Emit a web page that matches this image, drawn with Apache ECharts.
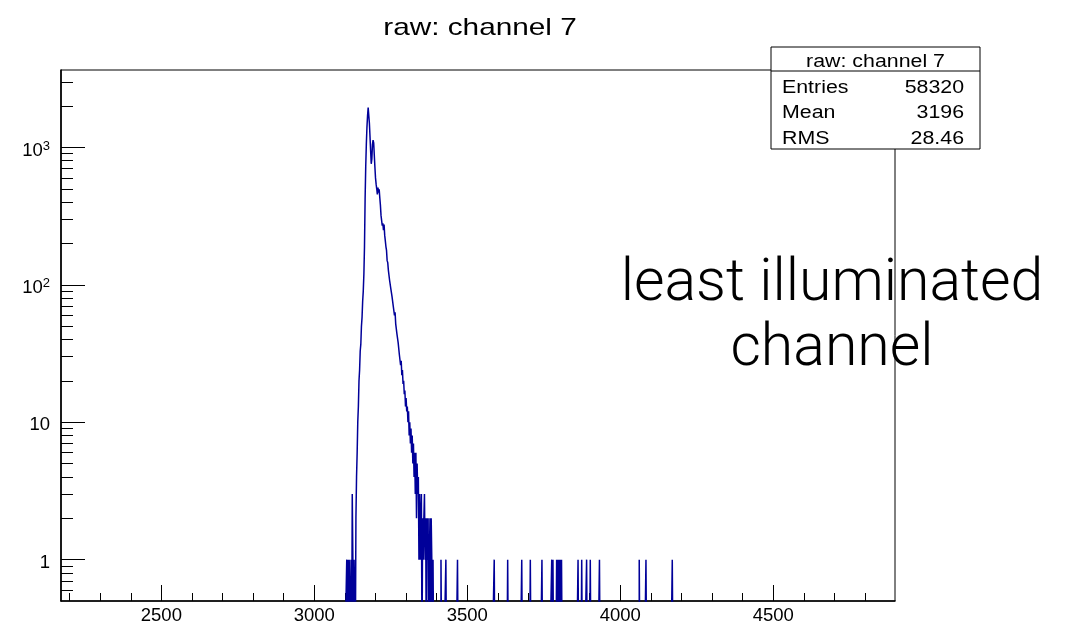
<!DOCTYPE html>
<html>
<head>
<meta charset="utf-8">
<script src="https://cdn.jsdelivr.net/npm/echarts@6/dist/echarts.min.js"></script>
<style>
  html, body { margin: 0; padding: 0; background: #ffffff; }
  #chart { width: 1074px; height: 627px; }
</style>
</head>
<body>
<div id="chart"></div>
<script>
// Axis ranges of the raw ADC spectrum
const X_MIN = 2172, X_MAX = 4898;
const Y_MIN = 0.5, Y_MAX = 3660;

// Histogram binning: counts per 2-ADC bin, starting at CORE_START
const BIN_WIDTH = 2;
const CORE_START = 3104;
const coreCounts = [
  0, 1, 0, 1, 0, 1, 1, 0, 1, 0,            // 3104 - 3122
  3, 1, 0, 1, 1, 0, 2, 4, 6, 10,           // 3124 - 3142
  13, 20, 24, 33, 37, 50, 58, 76, 90, 120, // 3144 - 3162
  190, 420, 720, 1050, 1400, 1700, 1950, 1960, 1500, 1200, // 3164 - 3182
  950, 760, 820, 1050, 1130, 1080, 880, 720, 600, 540,     // 3184 - 3202
  500, 455, 510, 470, 495, 430, 380, 320, 310, 270,        // 3204 - 3222
  280, 250, 275, 230, 210, 190, 178, 150, 145, 128,        // 3224 - 3242
  130, 108, 110, 94, 96, 82, 80, 70, 72, 60,               // 3244 - 3262
  63, 52, 52, 44, 45, 38, 37, 31, 32, 26,                  // 3264 - 3282
  28, 22, 24, 19, 20, 16, 17, 13, 15, 12,                  // 3284 - 3302
  13, 10, 12, 8, 10, 7, 9, 6, 8, 5,                        // 3304 - 3322
  7, 4, 6, 3, 6, 2, 5, 3, 4, 1,                            // 3324 - 3342
  3, 1, 2, 3, 0, 2, 1, 2, 3, 1,                            // 3344 - 3362
  2, 0, 2, 1, 2, 0, 1, 2, 0, 2,                            // 3364 - 3382
  1, 0, 1, 0                                               // 3384 - 3390
];

// Isolated high-side entries
const strayBins   = [3414, 3430, 3468, 3588, 3632, 3678, 3706, 3744, 3776, 3780,
                     3792, 3796, 3800, 3804, 3808, 3862, 3874, 3890, 3902, 3932,
                     4062, 4084, 4170];
const strayCounts = [1, 1, 1, 1, 1, 1, 1, 1, 1, 1,
                     1, 1, 1, 1, 1, 1, 1, 1, 1, 1,
                     1, 1, 1];

// Tick positions
const xMajorTicks = [2500, 3000, 3500, 4000, 4500];
const xMinorTicks = [2200, 2300, 2400, 2600, 2700, 2800, 2900, 3100, 3200, 3300, 3400,
                     3600, 3700, 3800, 3900, 4100, 4200, 4300, 4400, 4600, 4700, 4800];
const yMajorTicks = [1, 10, 100, 1000];
const yMinorTicks = [0.6, 0.7, 0.8, 0.9,
                     2, 3, 4, 5, 6, 7, 8, 9,
                     20, 30, 40, 50, 60, 70, 80, 90,
                     200, 300, 400, 500, 600, 700, 800, 900,
                     2000, 3000];

// Statistics box
const histTitle   = 'raw: channel 7';
const statsNames  = ['Entries', 'Mean', 'RMS'];
const statsValues = ['58320', '3196', '28.46'];
const noteLines   = ['least illuminated', 'channel'];

// Build the full bin array and the step outline
const nBins = Math.round((X_MAX - X_MIN) / BIN_WIDTH);
const counts = new Array(nBins).fill(0);
const coreOffset = Math.round((CORE_START - X_MIN) / BIN_WIDTH);
coreCounts.forEach((c, i) => { counts[coreOffset + i] += c; });
strayBins.forEach((x, i) => { counts[Math.floor((x - X_MIN) / BIN_WIDTH)] += strayCounts[i]; });

// Empty bins drop below the log floor so the outline returns to the frame edge
const EMPTY_LEVEL = 0.2;
const outline = counts.map((c, i) => [X_MIN + i * BIN_WIDTH, c > 0 ? c : EMPTY_LEVEL]);
outline.push([X_MAX, EMPTY_LEVEL]);

const FONT = '"Liberation Sans", Arial, Helvetica, sans-serif';
const INK = '#000000';
const HIST_COLOR = '#000099';

function expLabel(v) {
  const e = Math.round(Math.log10(v));
  return e < 2 ? String(Math.round(v)) : '{b|10}{s|' + e + '}';
}

const chart = echarts.init(document.getElementById('chart'), null, { renderer: 'canvas' });

const statsLeft = 771, statsTop = 47, statsW = 209, statsH = 102;
const rowY = [88, 113.5, 139];
const STRETCH = 1.22;

const statsChildren = [
  { type: 'rect', shape: { x: statsLeft, y: statsTop, width: statsW, height: statsH },
    style: { fill: '#ffffff', stroke: INK, lineWidth: 1 } },
  { type: 'line', shape: { x1: statsLeft, y1: 71, x2: statsLeft + statsW, y2: 71 },
    style: { stroke: INK, lineWidth: 1 } },
  { type: 'text', x: statsLeft + statsW / 2, y: 62, scaleX: STRETCH,
    style: { text: histTitle, fill: INK, fontSize: 17.5, fontFamily: FONT,
             textAlign: 'center', textVerticalAlign: 'middle', verticalAlign: 'middle' } }
];
statsNames.forEach((name, i) => {
  statsChildren.push({ type: 'text', x: 782, y: rowY[i], scaleX: STRETCH,
    style: { text: name, fill: INK, fontSize: 17.5, fontFamily: FONT,
             textAlign: 'left', textVerticalAlign: 'middle', verticalAlign: 'middle' } });
  statsChildren.push({ type: 'text', x: 964, y: rowY[i], scaleX: STRETCH,
    style: { text: statsValues[i], fill: INK, fontSize: 17.5, fontFamily: FONT,
             textAlign: 'right', textVerticalAlign: 'middle', verticalAlign: 'middle' } });
});

chart.setOption({
  animation: false,
  backgroundColor: '#ffffff',
  grid: {
    left: 61, right: 179, top: 70, bottom: 26,
    show: true, borderColor: INK, borderWidth: 1, backgroundColor: 'transparent',
    containLabel: false, outerBoundsMode: 'none'
  },
  xAxis: [
    {
      type: 'value', min: X_MIN, max: X_MAX, position: 'bottom',
      axisLine: { show: true, onZero: false, lineStyle: { color: INK, width: 1.6 } },
      axisTick: { show: true, inside: true, length: 16, customValues: xMajorTicks,
                  lineStyle: { color: INK, width: 1 } },
      axisLabel: { show: true, customValues: xMajorTicks, color: INK, fontSize: 18.5,
                   fontFamily: FONT, margin: 5, formatter: v => String(v) },
      splitLine: { show: false }
    },
    {
      type: 'value', min: X_MIN, max: X_MAX, position: 'bottom',
      axisLine: { show: false },
      axisTick: { show: true, inside: true, length: 8, customValues: xMinorTicks,
                  lineStyle: { color: INK, width: 1 } },
      axisLabel: { show: false },
      splitLine: { show: false }
    }
  ],
  yAxis: [
    {
      type: 'log', logBase: 10, min: Y_MIN, max: Y_MAX, position: 'left',
      axisLine: { show: true, onZero: false, lineStyle: { color: INK, width: 1.6 } },
      axisTick: { show: true, inside: true, length: 24, customValues: yMajorTicks,
                  lineStyle: { color: INK, width: 1 } },
      axisLabel: {
        show: true, customValues: yMajorTicks, color: INK, fontSize: 18.5, fontFamily: FONT,
        margin: 11, padding: [6, 0, 0, 0], formatter: expLabel,
        rich: {
          b: { fontSize: 18.5, fontFamily: FONT, color: INK, lineHeight: 22 },
          s: { fontSize: 13, fontFamily: FONT, color: INK, lineHeight: 13, verticalAlign: 'top' }
        }
      },
      splitLine: { show: false }
    },
    {
      type: 'log', logBase: 10, min: Y_MIN, max: Y_MAX, position: 'left',
      axisLine: { show: false },
      axisTick: { show: true, inside: true, length: 12, customValues: yMinorTicks,
                  lineStyle: { color: INK, width: 1 } },
      axisLabel: { show: false },
      splitLine: { show: false }
    }
  ],
  series: [
    {
      name: histTitle,
      type: 'line',
      xAxisIndex: 0, yAxisIndex: 0,
      step: 'end',
      data: outline,
      symbol: 'none', showSymbol: false,
      clip: true,
      lineStyle: { color: HIST_COLOR, width: 1.5 },
      emphasis: { disabled: true },
      z: 3
    }
  ],
  graphic: [
    { type: 'text', x: 480, y: 28, scaleX: 1.24, z: 100,
      style: { text: histTitle, fill: INK, fontSize: 24, fontFamily: FONT,
               textAlign: 'center', textVerticalAlign: 'middle', verticalAlign: 'middle' } },
    { type: 'group', z: 100, children: statsChildren },
    { type: 'text', x: 832, y: 318, z: 100,
      style: { text: noteLines.join('\n'), fill: INK, fontSize: 59, lineHeight: 65,
               fontFamily: 'Roboto, "Open Sans", sans-serif', fontWeight: 300,
               textAlign: 'center', textVerticalAlign: 'middle', verticalAlign: 'middle' } }
  ]
});
</script>
</body>
</html>
